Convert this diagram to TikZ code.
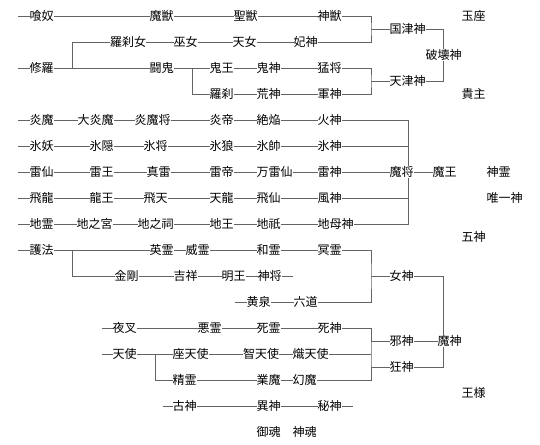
\documentclass[tikz,border=0pt]{standalone}
\usepackage{fontspec}
\setmainfont{Noto Sans CJK JP}
\definecolor{lc}{RGB}{100,100,100}
\begin{document}
\begin{tikzpicture}[x=1pt,y=-1pt,
  t/.style={anchor=west,inner sep=0pt,font=\fontsize{12}{12}\selectfont,text=black},
  ln/.style={draw=lc,line width=0.9pt}]
\useasboundingbox[fill=white] (0,0) rectangle (540,444);
% ---------- section 1 ----------
\node[t] (kuraido) at (29.5,16) {喰奴};
\node[t] (maju) at (149.5,16) {魔獣};
\node[t] (seiju) at (233.5,16) {聖獣};
\node[t] (shinju) at (317.5,16) {神獣};
\node[t] (rasetsunyo) at (110,42) {羅刹女};
\node[t] (fujo) at (173.5,42) {巫女};
\node[t] (tennyo) at (232.5,42) {天女};
\node[t] (hishin) at (293.5,42) {妃神};
\node[t] (shura) at (29.5,68) {修羅};
\node[t] (toki) at (149.5,68) {闘鬼};
\node[t] (kio) at (209.5,68) {鬼王};
\node[t] (kishin) at (256.5,68) {鬼神};
\node[t] (mosho) at (317.5,68) {猛将};
\node[t] (rasetsu) at (209.5,94) {羅刹};
\node[t] (koshin) at (256.5,94) {荒神};
\node[t] (gunshin) at (317.5,94) {軍神};
\node[t] (kunitsu) at (389.5,29) {国津神};
\node[t] (amatsu) at (389.5,81) {天津神};
\node[t,anchor=center] (hakai) at (443.5,55) {破壊神};
\node[t] (gyokuza) at (461.5,16) {玉座};
\node[t] (kishu) at (461.5,94) {貴主};
\coordinate (s1) at (18,16);
\coordinate (s2) at (18,68);
\coordinate (j1) at (72,68);
\coordinate (j2) at (192,68);
\coordinate (k1) at (371,29);
\coordinate (k2) at (371,81);
\draw[ln] (s1) -- (kuraido.west);
\draw[ln] (kuraido.east) -- (maju.west);
\draw[ln] (maju.east) -- (seiju.west);
\draw[ln] (seiju.east) -- (shinju.west);
\draw[ln] (shinju.east) -| (k1) |- (hishin.east);
\draw[ln] (j1) |- (rasetsunyo.west);
\draw[ln] (rasetsunyo.east) -- (fujo.west);
\draw[ln] (fujo.east) -- (tennyo.west);
\draw[ln] (tennyo.east) -- (hishin.west);
\draw[ln] (s2) -- (shura.west);
\draw[ln] (shura.east) -- (toki.west);
\draw[ln] (toki.east) -- (kio.west);
\draw[ln] (kio.east) -- (kishin.west);
\draw[ln] (kishin.east) -- (mosho.west);
\draw[ln] (mosho.east) -| (k2) |- (gunshin.east);
\draw[ln] (j2) |- (rasetsu.west);
\draw[ln] (rasetsu.east) -- (koshin.west);
\draw[ln] (koshin.east) -- (gunshin.west);
\draw[ln] (k1) -- (kunitsu.west);
\draw[ln] (k2) -- (amatsu.west);
\draw[ln] (kunitsu.east) -| (hakai.north);
\draw[ln] (amatsu.east) -| (hakai.south);
% ---------- section 2 ----------
\node[t] (enma) at (29.5,120) {炎魔};
\node[t] (daienma) at (77.5,120) {大炎魔};
\node[t] (enmasho) at (134.5,120) {炎魔将};
\node[t] (entei) at (209.5,120) {炎帝};
\node[t] (zetsuen) at (256.5,120) {絶焔};
\node[t] (kashin) at (317.5,120) {火神};
\node[t] (hyoyo) at (29.5,146) {氷妖};
\node[t] (hyoin) at (89.5,146) {氷隠};
\node[t] (hyosho) at (143.5,146) {氷将};
\node[t] (hyoro) at (209.5,146) {氷狼};
\node[t] (hyosui) at (256.5,146) {氷帥};
\node[t] (hyoshin) at (317.5,146) {氷神};
\node[t] (raisen) at (29.5,172) {雷仙};
\node[t] (raio) at (89.5,172) {雷王};
\node[t] (shinrai) at (146.5,172) {真雷};
\node[t] (raitei) at (209.5,172) {雷帝};
\node[t] (banraisen) at (256.5,172) {万雷仙};
\node[t] (raishin) at (317.5,172) {雷神};
\node[t] (mashou) at (389.5,172) {魔将};
\node[t] (maou) at (432.5,172) {魔王};
\node[t] (hiryu) at (29.5,198) {飛龍};
\node[t] (ryuo) at (89.5,198) {龍王};
\node[t] (hiten) at (143.5,198) {飛天};
\node[t] (tenryu) at (209.5,198) {天龍};
\node[t] (hisen) at (256.5,198) {飛仙};
\node[t] (fushin) at (317.5,198) {風神};
\node[t] (chirei) at (29.5,224) {地霊};
\node[t] (chinomiya) at (76.5,224) {地之宮};
\node[t] (chinohokora) at (137.5,224) {地之祠};
\node[t] (chio) at (209.5,224) {地王};
\node[t] (chigi) at (256.5,224) {地祇};
\node[t] (chibo) at (317.5,224) {地母神};
\node[t] (shinrei) at (486.5,172) {神霊};
\node[t] (yuitsu) at (486.5,198) {唯一神};
\coordinate (m) at (408,172);
\foreach \y/\a in {120/enma,146/hyoyo,172/raisen,198/hiryu,224/chirei}
  \draw[ln] (18,\y) -- (\a.west);
\draw[ln] (enma.east) -- (daienma.west);
\draw[ln] (daienma.east) -- (enmasho.west);
\draw[ln] (enmasho.east) -- (entei.west);
\draw[ln] (entei.east) -- (zetsuen.west);
\draw[ln] (zetsuen.east) -- (kashin.west);
\draw[ln] (hyoyo.east) -- (hyoin.west);
\draw[ln] (hyoin.east) -- (hyosho.west);
\draw[ln] (hyosho.east) -- (hyoro.west);
\draw[ln] (hyoro.east) -- (hyosui.west);
\draw[ln] (hyosui.east) -- (hyoshin.west);
\draw[ln] (raisen.east) -- (raio.west);
\draw[ln] (raio.east) -- (shinrai.west);
\draw[ln] (shinrai.east) -- (raitei.west);
\draw[ln] (raitei.east) -- (banraisen.west);
\draw[ln] (banraisen.east) -- (raishin.west);
\draw[ln] (raishin.east) -- (mashou.west);
\draw[ln] (mashou.east) -- (maou.west);
\draw[ln] (hiryu.east) -- (ryuo.west);
\draw[ln] (ryuo.east) -- (hiten.west);
\draw[ln] (hiten.east) -- (tenryu.west);
\draw[ln] (tenryu.east) -- (hisen.west);
\draw[ln] (hisen.east) -- (fushin.west);
\draw[ln] (chirei.east) -- (chinomiya.west);
\draw[ln] (chinomiya.east) -- (chinohokora.west);
\draw[ln] (chinohokora.east) -- (chio.west);
\draw[ln] (chio.east) -- (chigi.west);
\draw[ln] (chigi.east) -- (chibo.west);
\draw[ln] (kashin.east) -| (m |- mashou.north);
\draw[ln] (chibo.east) -| (m |- mashou.south);
\draw[ln] (hyoshin.east) -- (m |- hyoshin.east);
\draw[ln] (fushin.east) -- (m |- fushin.east);
% ---------- section 3 ----------
\node[t] (goho) at (29.5,250) {護法};
\node[t] (eirei) at (149.5,250) {英霊};
\node[t] (irei) at (185.5,250) {威霊};
\node[t] (warei) at (256.5,250) {和霊};
\node[t] (meirei) at (317.5,250) {冥霊};
\node[t] (kongo) at (114.5,276) {金剛};
\node[t] (kissho) at (173.5,276) {吉祥};
\node[t] (myoo) at (221.5,276) {明王};
\node[t] (shinsho) at (257.5,276) {神将};
\node[t] (yomi) at (246.5,302) {黄泉};
\node[t] (rikudo) at (293.5,302) {六道};
\node[t] (megami) at (389.5,276) {女神};
\node[t] (goshin) at (461.5,237) {五神};
\coordinate (s3) at (18,250);
\coordinate (j3) at (72,250);
\coordinate (e1) at (293,276);
\coordinate (s4) at (235,302);
\coordinate (k3) at (371,276);
\coordinate (v) at (443,300);
\draw[ln] (s3) -- (goho.west);
\draw[ln] (goho.east) -- (eirei.west);
\draw[ln] (eirei.east) -- (irei.west);
\draw[ln] (irei.east) -- (warei.west);
\draw[ln] (warei.east) -- (meirei.west);
\draw[ln] (j3) |- (kongo.west);
\draw[ln] (kongo.east) -- (kissho.west);
\draw[ln] (kissho.east) -- (myoo.west);
\draw[ln] (myoo.east) -- (shinsho.west);
\draw[ln] (shinsho.east) -- (e1);
\draw[ln] (s4) -- (yomi.west);
\draw[ln] (yomi.east) -- (rikudo.west);
\draw[ln] (meirei.east) -| (k3) |- (rikudo.east);
\draw[ln] (k3) -- (megami.west);
% ---------- section 4 ----------
\node[t] (yasha) at (112.5,328) {夜叉};
\node[t] (akurei) at (197.5,328) {悪霊};
\node[t] (shirei) at (256.5,328) {死霊};
\node[t] (shishin) at (317.5,328) {死神};
\node[t] (tenshi) at (112.5,354) {天使};
\node[t] (zatenshi) at (172.5,354) {座天使};
\node[t] (chitenshi) at (243,354) {智天使};
\node[t] (shitenshi) at (292.5,354) {熾天使};
\node[t] (seirei) at (172.5,380) {精霊};
\node[t] (gouma) at (256.5,380) {業魔};
\node[t] (genma) at (292.5,380) {幻魔};
\node[t] (jashin) at (389.5,341) {邪神};
\node[t] (mashin) at (437.5,341) {魔神};
\node[t] (kyoshin) at (389.5,367) {狂神};
\node[t] (koshin2) at (172.5,406) {古神};
\node[t] (ishin) at (256.5,406) {異神};
\node[t] (hishin2) at (317.5,406) {秘神};
\node[t] (mitama) at (256.5,432) {御魂};
\node[t] (shinkon) at (292.5,432) {神魂};
\node[t] (osama) at (461.5,393) {王様};
\coordinate (s5) at (102,328);
\coordinate (s6) at (102,354);
\coordinate (j4) at (155,354);
\coordinate (s7) at (163,406);
\coordinate (e2) at (353,406);
\coordinate (k4) at (371,354);
\draw[ln] (s5) -- (yasha.west);
\draw[ln] (yasha.east) -- (akurei.west);
\draw[ln] (akurei.east) -- (shirei.west);
\draw[ln] (shirei.east) -- (shishin.west);
\draw[ln] (s6) -- (tenshi.west);
\draw[ln] (tenshi.east) -- (zatenshi.west);
\draw[ln] (zatenshi.east) -- (chitenshi.west);
\draw[ln] (chitenshi.east) -- (shitenshi.west);
\draw[ln] (j4) |- (seirei.west);
\draw[ln] (seirei.east) -- (gouma.west);
\draw[ln] (gouma.east) -- (genma.west);
\draw[ln] (shishin.east) -| (k4) |- (genma.east);
\draw[ln] (shitenshi.east) -- (k4);
\draw[ln] (k4 |- jashin.west) -- (jashin.west);
\draw[ln] (k4 |- kyoshin.west) -- (kyoshin.west);
\draw[ln] (jashin.east) -- (mashin.west);
\draw[ln] (megami.east) -| (v |- mashin.north);
\draw[ln] (kyoshin.east) -| (v |- mashin.south);
\draw[ln] (s7) -- (koshin2.west);
\draw[ln] (koshin2.east) -- (ishin.west);
\draw[ln] (ishin.east) -- (hishin2.west);
\draw[ln] (hishin2.east) -- (e2);
\end{tikzpicture}
\end{document}
